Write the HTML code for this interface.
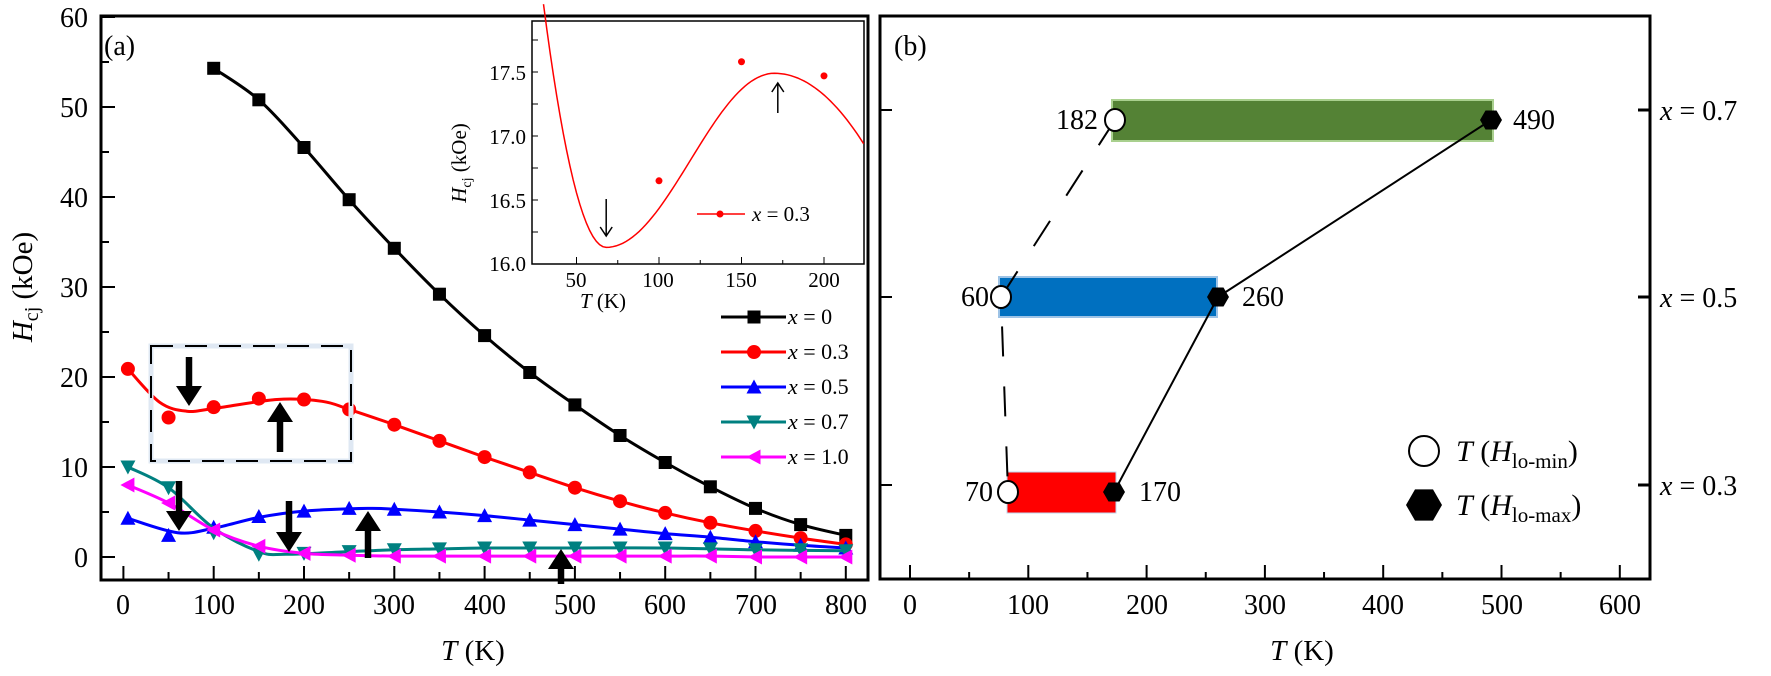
<!DOCTYPE html>
<html><head><meta charset="utf-8"><style>
html,body{margin:0;padding:0;background:#fff}
svg, svg text{font-family:"Liberation Serif",serif}
</style></head><body>
<svg id="s" width="1771" height="671" viewBox="0 0 1771 671" xmlns="http://www.w3.org/2000/svg" font-family="Liberation Serif, serif">
<rect width="1771" height="671" fill="#fff"/>
<g id="a"></g>
<rect x="101" y="16" width="767" height="564" fill="none" stroke="#000" stroke-width="3"/>
<g font-size="28" text-anchor="end">
<text x="88" y="27">60</text><text x="88" y="117">50</text><text x="88" y="207">40</text>
<text x="88" y="297">30</text><text x="88" y="387">20</text><text x="88" y="477">10</text><text x="88" y="567">0</text>
</g>
<g font-size="28" text-anchor="middle">
<text x="123" y="614">0</text><text x="214" y="614">100</text><text x="304" y="614">200</text><text x="394" y="614">300</text>
<text x="485" y="614">400</text><text x="575" y="614">500</text><text x="665" y="614">600</text><text x="756" y="614">700</text><text x="846" y="614">800</text>
</g>
<text x="473" y="660" font-size="29" text-anchor="middle"><tspan font-style="italic">T</tspan> (K)</text>
<text transform="translate(32,287) rotate(-90)" font-size="29" text-anchor="middle"><tspan font-style="italic">H</tspan><tspan font-size="20" dy="6">cj</tspan><tspan dy="-6"> (kOe)</tspan></text>
<text x="104" y="55" font-size="28">(a)</text>
<rect x="151" y="346" width="200" height="115" fill="none" stroke="#dfe8f3" stroke-width="5"/>
<rect x="151" y="346" width="200" height="115" fill="none" stroke="#000" stroke-width="2" stroke-dasharray="22,12"/>
<rect x="532" y="21" width="332" height="243" fill="#fff" stroke="#000" stroke-width="1.5"/>
<g id="inset"></g>
<g font-size="21" text-anchor="end">
<text x="526" y="271">16.0</text><text x="526" y="208">16.5</text><text x="526" y="144">17.0</text><text x="526" y="80">17.5</text>
</g>
<g font-size="21" text-anchor="middle">
<text x="576" y="287">50</text><text x="658" y="287">100</text><text x="741" y="287">150</text><text x="824" y="287">200</text>
</g>
<text x="603" y="308" font-size="21" text-anchor="middle"><tspan font-style="italic">T</tspan> (K)</text>
<text transform="translate(466,163) rotate(-90)" font-size="21" text-anchor="middle"><tspan font-style="italic">H</tspan><tspan font-size="14" dy="5">cj</tspan><tspan dy="-5"> (kOe)</tspan></text>
<line x1="697" y1="214" x2="745" y2="214" stroke="#f00" stroke-width="1.5"/><circle cx="720" cy="214" r="3.5" fill="#f00"/>
<text x="752" y="221" font-size="21"><tspan font-style="italic">x</tspan> = 0.3</text>
<g id="leg"></g>
<g font-size="22">
<text x="788" y="324"><tspan font-style="italic">x</tspan> = 0</text>
<text x="788" y="359"><tspan font-style="italic">x</tspan> = 0.3</text>
<text x="788" y="394"><tspan font-style="italic">x</tspan> = 0.5</text>
<text x="788" y="429"><tspan font-style="italic">x</tspan> = 0.7</text>
<text x="788" y="464"><tspan font-style="italic">x</tspan> = 1.0</text>
</g>

<rect x="880" y="16" width="770" height="563" fill="none" stroke="#000" stroke-width="3"/>
<g id="bt"></g>
<g font-size="28" text-anchor="middle">
<text x="910" y="614">0</text><text x="1028" y="614">100</text><text x="1147" y="614">200</text><text x="1265" y="614">300</text>
<text x="1383" y="614">400</text><text x="1502" y="614">500</text><text x="1620" y="614">600</text>
</g>
<text x="1302" y="660" font-size="29" text-anchor="middle"><tspan font-style="italic">T</tspan> (K)</text>
<text x="894" y="55" font-size="28">(b)</text>
<g font-size="28">
<text x="1660" y="120"><tspan font-style="italic">x</tspan> = 0.7</text>
<text x="1660" y="307"><tspan font-style="italic">x</tspan> = 0.5</text>
<text x="1660" y="495"><tspan font-style="italic">x</tspan> = 0.3</text>
</g>
<rect x="1112" y="100" width="381" height="41" fill="#548235" stroke="#a9d08e" stroke-width="2"/>
<rect x="999" y="277" width="218" height="40" fill="#0070c0" stroke="#9dc3e6" stroke-width="2"/>
<rect x="1007" y="472" width="109" height="41" fill="#ff0000" stroke="#bdd7ee" stroke-width="1"/>
<polyline points="1115,120 1001,297 1008,492" fill="none" stroke="#000" stroke-width="2" stroke-dasharray="30,30"/>
<polyline points="1491,120 1218,297 1114,492" fill="none" stroke="#000" stroke-width="2"/>
<g id="bm"></g>
<g font-size="28">
<text x="1098" y="129" text-anchor="end">182</text><text x="1513" y="129">490</text>
<text x="989" y="306" text-anchor="end">60</text><text x="1242" y="306">260</text>
<text x="993" y="501" text-anchor="end">70</text><text x="1139" y="501">170</text>
</g>
<circle cx="1424" cy="451" r="15" fill="#fff" stroke="#000" stroke-width="2"/>
<g font-size="30">
<text x="1456" y="461"><tspan font-style="italic">T</tspan> (<tspan font-style="italic">H</tspan><tspan font-size="21" dy="7">lo-min</tspan><tspan dy="-7">)</tspan></text>
<text x="1456" y="515"><tspan font-style="italic">T</tspan> (<tspan font-style="italic">H</tspan><tspan font-size="21" dy="7">lo-max</tspan><tspan dy="-7">)</tspan></text>
</g>
</svg>
<script>
var NS="http://www.w3.org/2000/svg";
function el(p,t,a){var e=document.createElementNS(NS,t);for(var k in a)e.setAttribute(k,a[k]);p.appendChild(e);return e;}
function cr(pts){var d="M"+pts[0][0]+","+pts[0][1];for(var i=0;i<pts.length-1;i++){var p0=pts[Math.max(0,i-1)],p1=pts[i],p2=pts[i+1],p3=pts[Math.min(pts.length-1,i+2)];
d+=" C"+(p1[0]+(p2[0]-p0[0])/6)+","+(p1[1]+(p2[1]-p0[1])/6)+" "+(p2[0]-(p3[0]-p1[0])/6)+","+(p2[1]-(p3[1]-p1[1])/6)+" "+p2[0]+","+p2[1];}return d;}
var X=function(t){return 123.4+t*0.903},Y=function(v){return 557-v*9};
function mk(g,type,x,y,c,s){s=s||6.5;
 if(type=="sq")el(g,"rect",{x:x-s,y:y-s,width:2*s,height:2*s,fill:c});
 else if(type=="ci")el(g,"circle",{cx:x,cy:y,r:s+0.5,fill:c});
 else if(type=="up")el(g,"polygon",{points:(x)+","+(y-s-1)+" "+(x-s-1)+","+(y+s)+" "+(x+s+1)+","+(y+s),fill:c});
 else if(type=="dn")el(g,"polygon",{points:(x)+","+(y+s+1)+" "+(x-s-1)+","+(y-s)+" "+(x+s+1)+","+(y-s),fill:c});
 else if(type=="lf")el(g,"polygon",{points:(x-s-1)+","+y+" "+(x+s)+","+(y-s-1)+" "+(x+s)+","+(y+s+1),fill:c});}
var g=document.getElementById("a");
var T=[5,50,100,150,200,250,300,350,400,450,500,550,600,650,700,750,800];
var S=[
 {c:"#000",m:"sq",t:[100,150,200,250,300,350,400,450,500,550,600,650,700,750,800],v:[54.3,50.8,45.5,39.7,34.3,29.2,24.6,20.5,16.9,13.5,10.5,7.8,5.4,3.6,2.4]},
 {c:"#f00",m:"ci",t:T,v:[20.9,15.5,16.65,17.6,17.5,16.4,14.7,12.9,11.1,9.4,7.7,6.2,4.9,3.8,2.9,2.1,1.4],curve:[[5,20.9],[40,17.2],[70,16.2],[100,16.5],[170,17.5],[220,17.3],[250,16.4],[300,14.7],[350,12.9],[400,11.1],[450,9.4],[500,7.7],[550,6.2],[600,4.9],[650,3.8],[700,2.9],[750,2.1],[800,1.4]]},
 {c:"#00f",m:"up",t:T,v:[4.3,2.4,3.3,4.5,5.1,5.4,5.3,5.0,4.6,4.1,3.6,3.1,2.6,2.2,1.7,1.3,1.0],curve:[[5,4.3],[60,2.7],[100,3.2],[150,4.4],[200,5.1],[270,5.4],[300,5.3],[350,5.0],[400,4.6],[450,4.1],[500,3.6],[550,3.1],[600,2.6],[650,2.2],[700,1.7],[750,1.3],[800,1.0]]},
 {c:"#008080",m:"dn",t:T,v:[10,7.7,2.7,0.3,0.4,0.6,0.8,0.9,1.0,1.0,1.0,1.0,1.0,0.9,0.8,0.8,0.7],curve:[[5,10],[50,7.7],[100,3.2],[150,0.6],[180,0.3],[250,0.6],[300,0.8],[350,0.9],[400,1.0],[500,1.0],[600,1.0],[700,0.8],[800,0.7]]},
 {c:"#f0f",m:"lf",t:T,v:[8,6,3,1.2,0.4,0.2,0.1,0.1,0.1,0.1,0.1,0.1,0.1,0.1,0,0,0]}
];
S.forEach(function(s){var pts=(s.curve||s.t.map(function(t,i){return[t,s.v[i]]})).map(function(p){return[X(p[0]),Y(p[1])]});
 el(g,"path",{d:cr(pts),fill:"none",stroke:s.c,"stroke-width":3});
 s.t.forEach(function(t,i){mk(g,s.m,X(t),Y(s.v[i]),s.c);});});
function arr(g,x,y1,y2,w){var dir=y2>y1?1:-1;var h=20*dir;
 el(g,"line",{x1:x,y1:y1,x2:x,y2:y2-h+2*dir,stroke:"#000","stroke-width":w});
 el(g,"polygon",{points:(x-13)+","+(y2-h)+" "+x+","+y2+" "+(x+13)+","+(y2-h)+" "+(x+4)+","+(y2-h)+" "+(x-4)+","+(y2-h),fill:"#000"});}
arr(g,189,357,406,6.5);arr(g,280,452,402,6.5);arr(g,179,481,531,6.5);arr(g,289,501,552,6.5);arr(g,368,558,511,6.5);arr(g,561,584,549,6.5);
var lg=document.getElementById("leg");
["sq","ci","up","dn","lf"].forEach(function(m,i){var y=317+35*i;el(lg,"line",{x1:721,y1:y,x2:786,y2:y,stroke:S[i].c,"stroke-width":3});mk(lg,m,754,y,S[i].c);});
for(var t=0;t<=800;t+=50){el(g,"line",{x1:X(t),y1:580,x2:X(t),y2:t%100?572:566,stroke:"#000","stroke-width":2});}
for(var v=0;v<=60;v+=5){el(g,"line",{x1:101,y1:Y(v),x2:v%10?109:115,y2:Y(v),stroke:"#000","stroke-width":2});}
var ig=document.getElementById("inset");
var IX=function(t){return 494+t*1.65},IY=function(v){return 264-(v-16)*128};
var cp=[];for(var t=30;t<=224;t+=2){var v;
 if(t<68){var u=(68-t)/38;v=16.13+1.9*u*u;} else if(t<170){var u=(t-68)/102;v=16.13+1.36*(1-Math.cos(Math.PI*u))/2;} else {var u=(t-170)/54;v=17.49-0.55*u*u;}
 cp.push((IX(t)).toFixed(1)+","+(IY(v)).toFixed(1));}
el(ig,"polyline",{points:cp.join(" "),fill:"none",stroke:"#f00","stroke-width":1.5});
[[100,16.65],[150,17.58],[200,17.47]].forEach(function(p){el(ig,"circle",{cx:IX(p[0]),cy:IY(p[1]),r:3.5,fill:"#f00"});});
function tarr(x,y1,y2){var d=y2>y1?1:-1;el(ig,"line",{x1:x,y1:y1,x2:x,y2:y2,stroke:"#000","stroke-width":1.5});
 el(ig,"polyline",{points:(x-6)+","+(y2-9*d)+" "+x+","+y2+" "+(x+6)+","+(y2-9*d),fill:"none",stroke:"#000","stroke-width":1.5});}
tarr(IX(68),199,236);tarr(IX(172),113,83);
for(var t=50;t<=200;t+=25){el(ig,"line",{x1:IX(t),y1:264,x2:IX(t),y2:t%50?260:257,stroke:"#000","stroke-width":1});}
for(var v=16;v<=17.8;v+=0.25){el(ig,"line",{x1:532,y1:IY(v),x2:538,y2:IY(v),stroke:"#000","stroke-width":1});}
var bt=document.getElementById("bt");
for(var t=0;t<=600;t+=50){var x=910+t*1.183;el(bt,"line",{x1:x,y1:579,x2:x,y2:t%100?572:565,stroke:"#000","stroke-width":2});}
[110,297,485].forEach(function(y){el(bt,"line",{x1:880,y1:y,x2:892,y2:y,stroke:"#000","stroke-width":2});el(bt,"line",{x1:1638,y1:y,x2:1650,y2:y,stroke:"#000","stroke-width":3});});
var bm=document.getElementById("bm");
[[1115,120],[1001,297],[1008,492]].forEach(function(p){el(bm,"ellipse",{cx:p[0],cy:p[1],rx:10,ry:11,fill:"#fff",stroke:"#000","stroke-width":2});});
function hex(g,x,y,r){var p=[];for(var i=0;i<6;i++){var a=Math.PI/3*i;p.push((x+r*Math.cos(a)).toFixed(1)+","+(y+r*Math.sin(a)).toFixed(1));}el(g,"polygon",{points:p.join(" "),fill:"#000"});}
hex(bm,1491,120,11);hex(bm,1218,297,11);hex(bm,1114,492,11);hex(bm,1424,505,18);
</script>
</body></html>
